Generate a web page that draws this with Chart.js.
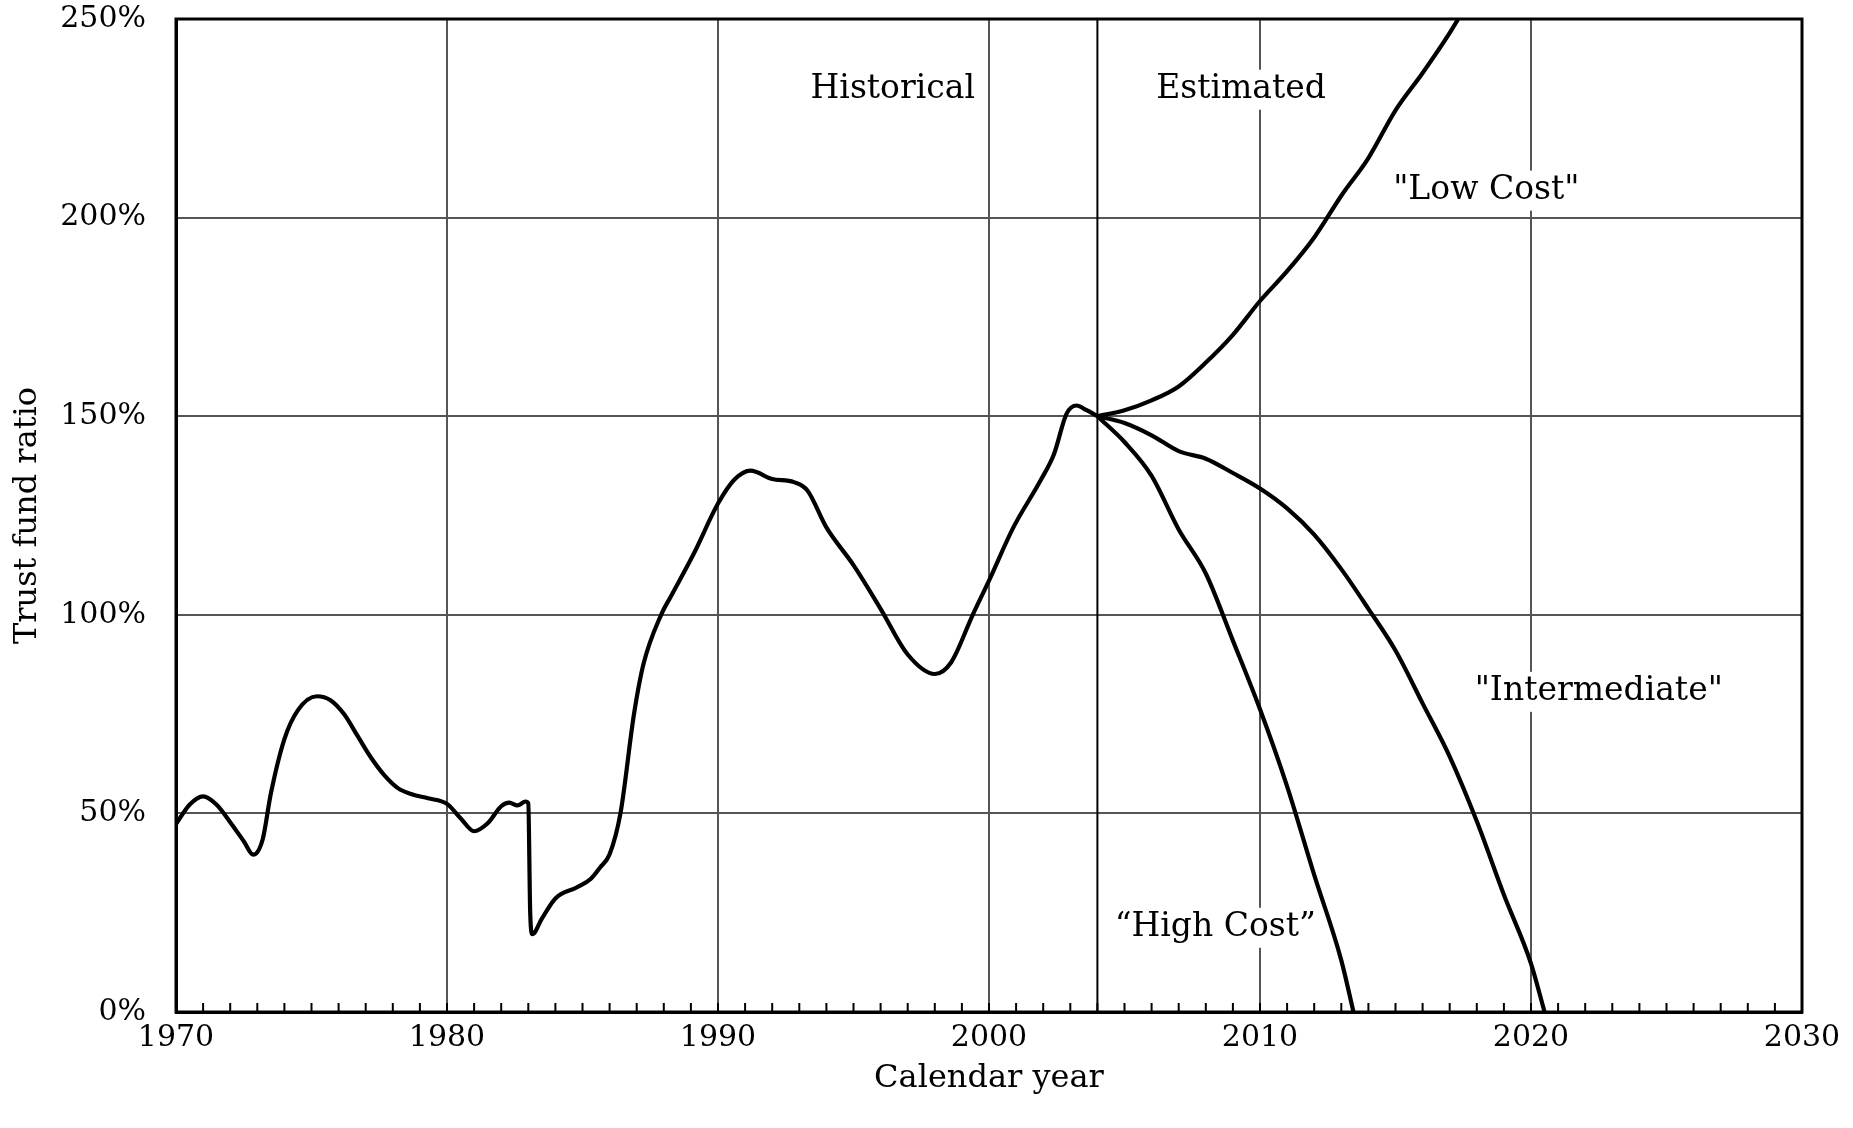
<!DOCTYPE html>
<html>
<head>
<meta charset="utf-8">
<script src="https://cdn.jsdelivr.net/npm/chart.js@4.4.1/dist/chart.umd.min.js"></script>
<style>
  body { margin: 0; background: #fff; }
  #wrap { width: 1853px; height: 1128px; }
</style>
</head>
<body>
<div id="wrap"><canvas id="myChart"></canvas></div>
<script>
// values (trust fund ratio, %)
const historicalYears = [1970, 1970.5, 1971, 1971.5, 1972, 1972.5, 1972.85, 1973.2, 1973.5, 1974, 1974.5, 1975.2, 1975.7, 1976.2,
    1976.7, 1977.2, 1977.7, 1978.2, 1978.7, 1979.3, 1980, 1980.5, 1981, 1981.5, 1982, 1982.3, 1982.6, 1982.9,
    1983.0, 1983.07, 1983.15, 1983.5, 1984, 1984.8, 1985.3, 1985.65, 1986, 1986.4, 1986.9, 1987.25, 1987.9, 1988.25,
    1989.1, 1990, 1990.6, 1991.2, 1992, 1992.8, 1993.3, 1994, 1995, 1996, 1997,
    1998, 1998.6, 1999.4, 2000, 2000.9, 2001.9, 2002.4, 2002.86, 2003.23, 2003.6, 2004];
const historicalRatio = [47.3, 52.2, 54.3, 52.2, 47.8, 43, 39.6, 43.5, 55, 68.7, 76, 79.5, 78.5, 75,
    69.5, 64, 59.5, 56.3, 54.8, 53.8, 52.4, 48.8, 45.5, 47.5, 51.8, 52.7, 52, 53,
    52.5, 25, 19.6, 23.5, 28.6, 31.4, 33.5, 36.4, 39.7, 50, 75, 87.6, 100, 104.5,
    115.3, 128, 134, 136.3, 134.2, 133.4, 131.3, 122, 112.5, 101.5, 90,
    85.1, 88, 100, 108.6, 122, 133.8, 140.5, 150.6, 152.7, 151.5, 150];

const lowCostYears = [2004, 2005, 2006, 2007, 2008, 2009, 2010, 2011, 2012, 2013, 2014, 2015, 2016, 2017, 2018];
const lowCostRatio = [150, 151.5, 154, 157.5, 163.5, 170.5, 179, 186.5, 195, 205.5, 215, 227, 236.4, 246.5, 258];

const intermediateYears = [2004, 2005, 2006, 2007, 2008, 2009, 2010, 2011, 2012, 2013, 2014, 2015, 2016, 2017, 2018, 2019, 2020, 2020.5];
const intermediateRatio = [150, 148.3, 145.2, 141.2, 139.3, 135.7, 131.8, 126.8, 120.2, 111.5, 101.5, 91, 77.7, 64.3, 48, 29.5, 12.2, 0];

const highCostYears = [2004, 2005, 2006, 2007, 2008, 2009, 2010, 2011, 2012, 2013, 2013.45];
const highCostRatio = [150, 143.5, 135, 121.5, 110.4, 93.5, 76.2, 56.8, 34.5, 13, 0];

const xTickYears = [1970, 1980, 1990, 2000, 2010, 2020, 2030];
const yTickValues = [0, 50, 100, 150, 200, 250];
const splitYear = 2004;

const labelTexts = ['Historical', 'Estimated', '"Low Cost"', '"Intermediate"', '\u201CHigh Cost\u201D'];
const labelYears = [1996.45, 2009.3, 2018.35, 2022.5, 2008.35];
const labelValues = [232.2, 232.2, 206.8, 80.6, 21.2];

const serif = "'DejaVu Serif', serif";

function toPoints(xs, ys) {
    return xs.map((x, i) => ({ x: x, y: ys[i] }));
}

function lineSet(xs, ys) {
    return {
        data: toPoints(xs, ys),
        borderColor: '#000',
        borderWidth: 4.2,
        pointRadius: 0,
        fill: false,
        cubicInterpolationMode: 'monotone'
    };
}

const extras = {
    id: 'extras',
    beforeDatasetsDraw(chart) {
        const { ctx, chartArea, scales } = chart;
        ctx.save();
        // line that splits historical / estimated
        const sx = scales.x.getPixelForValue(splitYear);
        ctx.strokeStyle = '#000';
        ctx.lineWidth = 2;
        ctx.beginPath();
        ctx.moveTo(sx, chartArea.top);
        ctx.lineTo(sx, chartArea.bottom);
        ctx.stroke();

        // text labels on white boxes
        ctx.font = '33px ' + serif;
        ctx.textAlign = 'center';
        ctx.textBaseline = 'middle';
        for (let i = 0; i < labelTexts.length; i++) {
            const px = scales.x.getPixelForValue(labelYears[i]);
            const py = scales.y.getPixelForValue(labelValues[i]);
            const w = ctx.measureText(labelTexts[i]).width;
            ctx.fillStyle = '#fff';
            ctx.fillRect(px - w / 2 - 4, py - 20, w + 8, 40);
            ctx.fillStyle = '#000';
            ctx.fillText(labelTexts[i], px, py);
        }
        ctx.restore();
    },
    afterDatasetsDraw(chart) {
        const { ctx, chartArea, scales } = chart;
        ctx.save();
        // minor year ticks pointing inward
        ctx.strokeStyle = '#000';
        ctx.lineWidth = 2;
        ctx.beginPath();
        for (let yr = 1971; yr < 2030; yr++) {
            const px = scales.x.getPixelForValue(yr);
            ctx.moveTo(px, chartArea.bottom);
            ctx.lineTo(px, chartArea.bottom - 9);
        }
        ctx.stroke();
        // frame
        ctx.lineWidth = 3;
        ctx.strokeRect(chartArea.left, chartArea.top, chartArea.right - chartArea.left, chartArea.bottom - chartArea.top);
        ctx.restore();
    }
};

new Chart(document.getElementById('myChart'), {
    type: 'line',
    data: {
        datasets: [
            lineSet(historicalYears, historicalRatio),
            lineSet(lowCostYears, lowCostRatio),
            lineSet(intermediateYears, intermediateRatio),
            lineSet(highCostYears, highCostRatio)
        ]
    },
    options: {
        responsive: true,
        maintainAspectRatio: false,
        animation: false,
        layout: {
            padding: { left: 0, right: 51, top: 19, bottom: 0 }
        },
        plugins: {
            legend: { display: false },
            tooltip: { enabled: false }
        },
        scales: {
            x: {
                type: 'linear',
                min: 1970,
                max: 2030,
                afterBuildTicks: scale => {
                    scale.ticks = xTickYears.map(v => ({ value: v }));
                },
                ticks: {
                    color: '#000',
                    padding: 8,
                    maxRotation: 0,
                    font: { family: serif, size: 30 },
                    callback: v => String(v)
                },
                grid: { color: '#555', lineWidth: 2, drawTicks: false },
                border: { color: '#000', width: 3 },
                title: {
                    display: true,
                    text: 'Calendar year',
                    color: '#000',
                    font: { family: serif, size: 32 },
                    padding: { top: 2, bottom: 30 }
                },
                afterFit: scale => {
                    scale.height = 116;
                    scale.paddingLeft = 0;
                    scale.paddingRight = 0;
                }
            },
            y: {
                min: 0,
                max: 250,
                afterBuildTicks: scale => {
                    scale.ticks = yTickValues.map(v => ({ value: v }));
                },
                ticks: {
                    color: '#000',
                    padding: 30,
                    font: { family: serif, size: 30 },
                    callback: v => v + '%'
                },
                grid: { color: '#555', lineWidth: 2, drawTicks: false },
                border: { color: '#000', width: 3 },
                title: {
                    display: true,
                    text: 'Trust fund ratio',
                    color: '#000',
                    font: { family: serif, size: 32 },
                    padding: { top: 8, bottom: 0 }
                },
                afterFit: scale => {
                    scale.width = 176;
                    scale.paddingTop = 0;
                    scale.paddingBottom = 0;
                }
            }
        }
    },
    plugins: [extras]
});
</script>
</body>
</html>
